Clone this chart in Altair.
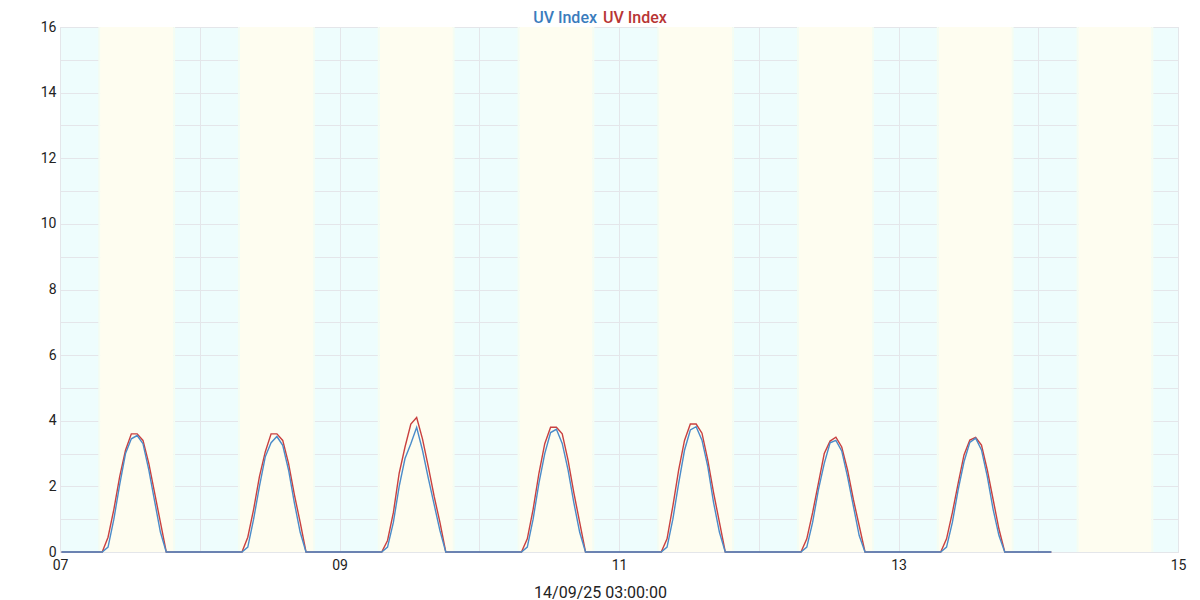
import altair as alt
import pandas as pd

# ---- data ----
x_start = "2025-09-07T00:00:00"
x_end = "2025-09-15T00:00:00"
first_reading = "2025-09-07T00:15:00"
n_readings = 171  # hourly, last reading 14/09 02:15
sunrise = "06:53"
sunset = "19:28"
band_days = ["2025-09-07", "2025-09-08", "2025-09-09", "2025-09-10",
             "2025-09-11", "2025-09-12", "2025-09-13", "2025-09-14"]
tick_days = [7, 8, 9, 10, 11, 12, 13, 14, 15]
y_ticks = list(range(0, 17))

# readings 08:15 .. 17:15 for each day (night readings are 0)
blue_07 = [0.15, 1.0, 2.05, 3.0, 3.45, 3.55, 3.3, 2.5, 1.55, 0.6]
blue_08 = [0.15, 1.0, 2.0, 2.9, 3.33, 3.52, 3.25, 2.5, 1.5, 0.6]
blue_09 = [0.15, 0.9, 2.0, 2.85, 3.3, 3.8, 3.1, 2.25, 1.45, 0.65]
blue_10 = [0.15, 1.0, 2.1, 3.0, 3.64, 3.74, 3.31, 2.5, 1.5, 0.6]
blue_11 = [0.15, 1.0, 2.1, 3.1, 3.72, 3.82, 3.41, 2.6, 1.5, 0.6]
blue_12 = [0.15, 0.9, 1.9, 2.7, 3.33, 3.4, 3.08, 2.3, 1.4, 0.5]
blue_13 = [0.15, 0.9, 1.9, 2.75, 3.34, 3.47, 3.11, 2.3, 1.3, 0.5]

red_07 = [0.45, 1.3, 2.3, 3.1, 3.6, 3.6, 3.4, 2.7, 1.8, 0.9]
red_08 = [0.45, 1.3, 2.3, 3.05, 3.6, 3.6, 3.4, 2.7, 1.75, 0.9]
red_09 = [0.35, 1.2, 2.4, 3.2, 3.9, 4.1, 3.45, 2.6, 1.7, 0.9]
red_10 = [0.4, 1.3, 2.4, 3.3, 3.8, 3.8, 3.6, 2.8, 1.8, 0.9]
red_11 = [0.4, 1.4, 2.5, 3.4, 3.9, 3.9, 3.62, 2.8, 1.8, 0.9]
red_12 = [0.4, 1.2, 2.1, 3.0, 3.38, 3.5, 3.2, 2.5, 1.6, 0.8]
red_13 = [0.4, 1.2, 2.1, 2.96, 3.41, 3.49, 3.26, 2.5, 1.6, 0.7]

blue_days = [blue_07, blue_08, blue_09, blue_10, blue_11, blue_12, blue_13]
red_days = [red_07, red_08, red_09, red_10, red_11, red_12, red_13]

series_names = ["red", "blue"]
series_colors = ["#c9403f", "#4a8bc9"]

# ---- build tables ----
times = pd.date_range(first_reading, periods=n_readings, freq="h")


def assemble(day_lists):
    vals = []
    for t in times:
        d = t.day - 7
        h = t.hour
        if d < len(day_lists) and 8 <= h <= 17:
            vals.append(day_lists[d][h - 8])
        else:
            vals.append(0.0)
    return vals


rows = []
for name, lists in zip(series_names, [red_days, blue_days]):
    for t, v in zip(times, assemble(lists)):
        rows.append({"time": t.strftime("%Y-%m-%dT%H:%M:%S"), "uv": v, "series": name})
df = pd.DataFrame(rows)

bands = pd.DataFrame({
    "start": [f"{d}T{sunrise}:00" for d in band_days],
    "end": [f"{d}T{sunset}:00" for d in band_days],
})
twi = pd.DataFrame({
    "start": [f"{d}T06:35:00" for d in band_days] + [f"{d}T{sunset}:00" for d in band_days],
    "end": [f"{d}T{sunrise}:00" for d in band_days] + [f"{d}T19:46:00" for d in band_days],
})

x_scale = alt.Scale(domain=[x_start, x_end], nice=False)
x_axis = alt.Axis(
    values=[alt.DateTime(year=2025, month=9, date=d) for d in tick_days],
    labelExpr="date(datum.value) % 2 == 1 ? timeFormat(datum.value, '%d') : ''",
    grid=True, gridColor="#e4e6ea", gridWidth=1,
    ticks=False, domain=False,
    labelFont="Roboto", labelFontSize=14, labelColor="#222222", labelPadding=6,
    labelFlush=False,
    titleFont="Roboto", titleFontSize=16, titleFontWeight="normal", titleColor="#222222",
    titleX=540, titleY=45, titleBaseline="alphabetic", titleAlign="center",
)
x_title = "14/09/25 03:00:00"

day_rects = alt.Chart(bands).mark_rect(color="#fefdf0").encode(
    x=alt.X("start:T", scale=x_scale, axis=x_axis, title=x_title),
    x2="end:T",
)
twi_rects = alt.Chart(twi).mark_rect(color="#f5fdf2").encode(
    x=alt.X("start:T", scale=x_scale, axis=x_axis, title=x_title),
    x2="end:T",
)

lines = alt.Chart(df).mark_line(strokeWidth=1.4).encode(
    x=alt.X("time:T", scale=x_scale, axis=x_axis, title=x_title),
    y=alt.Y("uv:Q", scale=alt.Scale(domain=[0, 16], nice=False),
            axis=alt.Axis(values=y_ticks,
                          labelExpr="datum.value % 2 == 0 ? datum.label : ''",
                          grid=True, gridColor="#e4e6ea", gridWidth=1,
                          ticks=False, domain=False,
                          labelFont="Roboto", labelFontSize=14, labelColor="#222222",
                          labelPadding=4),
            title=None),
    color=alt.Color("series:N", scale=alt.Scale(domain=series_names, range=series_colors),
                    legend=None),
    order=alt.Order("series:N", sort="descending"),
    detail="series:N",
)

title_blue = alt.Chart(pd.DataFrame({"t": ["UV Index"]})).mark_text(
    align="right", baseline="alphabetic", font="Roboto", fontSize=16, fontWeight=500,
    color="#3b7cbd",
).encode(x=alt.value(537), y=alt.value(-4), text="t:N")
title_red = alt.Chart(pd.DataFrame({"t": ["UV Index"]})).mark_text(
    align="left", baseline="alphabetic", font="Roboto", fontSize=16, fontWeight=500,
    color="#b83535",
).encode(x=alt.value(543), y=alt.value(-4), text="t:N")

chart = alt.layer(day_rects, twi_rects, lines, title_blue, title_red).properties(
    width=1118, height=525,
    padding={"left": 52, "top": 19, "right": 14, "bottom": 48},
    autosize=alt.AutoSizeParams(type="none"),
).configure_view(fill="#eefdfd", stroke="#dcdfe3")

chart.save("out.html", embed_options={"renderer": "svg", "actions": False})
